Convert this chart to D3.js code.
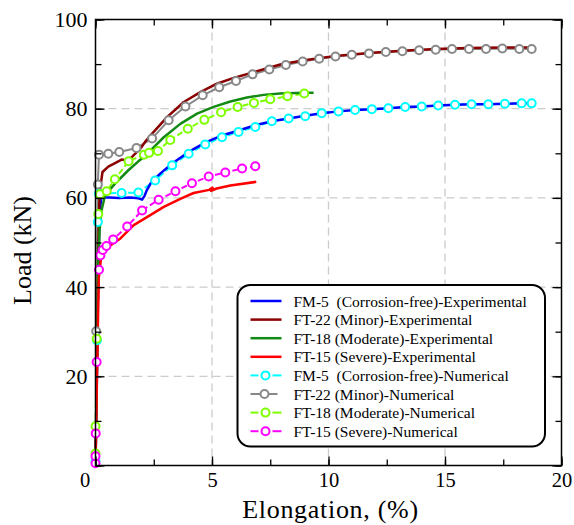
<!DOCTYPE html>
<html>
<head>
<meta charset="utf-8">
<script src="https://cdn.jsdelivr.net/npm/d3@7"></script>
<style>
  body { margin: 0; background: #fff; }
  svg { display: block; }
</style>
</head>
<body>
<script>
// experimental curves [elongation %, load kN]
var fm5Exp = [[0,0],[0.06,20],[0.12,45],[0.18,57],[0.25,60.1],[0.6,60.1],[1.0,60.0],[1.5,60.1],[1.85,59.9],[2.0,59.6],[2.1,60.4],[2.2,61.7],[2.36,63.2],[2.48,64.0],[2.79,65.5],[3.29,67.7],[4.0,70.3],[4.71,72.4],[5.43,74.0],[6.14,75.1],[6.86,76.3],[7.57,77.2],[8.29,77.8],[9.0,78.4],[9.71,79.0],[10.43,79.4],[11.14,79.7],[11.86,79.9],[12.57,80.1],[13.29,80.4],[14.0,80.5],[14.71,80.7],[15.43,80.9],[16.14,81.0],[16.86,81.0],[17.57,81.1],[18.29,81.2],[18.74,81.2]];
var ft22Exp = [[0,0],[0.08,30],[0.14,55],[0.18,61.3],[0.3,65.8],[0.55,67.0],[0.84,67.8],[1.12,68.6],[1.41,68.4],[1.62,69.5],[1.98,71.4],[2.12,72.5],[2.43,74.4],[3.07,78.1],[3.79,81.5],[4.5,83.7],[5.21,85.6],[5.93,86.9],[6.79,88.2],[7.93,89.9],[8.89,90.8],[10.3,91.8],[11.74,92.5],[13.17,93.0],[14.6,93.4],[16.0,93.6],[17.46,93.7],[18.76,93.7]];
var ft18Exp = [[0,0],[0.07,25],[0.12,45],[0.18,53],[0.25,57],[0.41,60.6],[0.84,63.2],[1.41,66.2],[1.84,68.2],[2.1,69.3],[2.43,71.0],[2.93,73.6],[3.64,76.6],[4.36,78.9],[5.07,80.4],[5.79,81.6],[6.5,82.5],[7.21,83.1],[7.93,83.4],[8.6,83.5],[9.36,83.6]];
var ft15Exp = [[0,0],[0.08,25],[0.14,42],[0.25,47],[0.43,48.6],[1.07,50.9],[1.64,53.9],[2.21,55.7],[2.93,58.0],[3.64,59.8],[4.21,61.1],[4.88,61.8],[5.02,62.3],[4.96,61.6],[5.2,62.1],[5.79,62.8],[6.9,63.6]];

// numerical curves
var fm5Num = [[0,1],[0.06,28.1],[0.1,54.6],[0.14,61.0],[1.12,61.1],[1.84,61.2],[2.56,63.9],[3.29,67.3],[4.0,69.9],[4.71,72.0],[5.43,73.6],[6.14,74.8],[6.86,75.9],[7.57,77.2],[8.29,77.8],[9.0,78.3],[9.71,79.0],[10.43,79.4],[11.14,79.7],[11.86,79.9],[12.57,80.1],[13.29,80.4],[14.0,80.5],[14.71,80.7],[15.43,80.9],[16.14,81.0],[16.86,81.0],[17.57,81.1],[18.29,81.2],[18.72,81.2]];
var ft22Num = [[0.03,30.1],[0.1,63.0],[0.15,69.7],[0.55,69.9],[1.02,70.3],[1.76,71.2],[2.43,73.3],[3.14,77.4],[3.86,80.5],[4.6,83.0],[5.31,84.8],[6.03,86.2],[6.74,87.7],[7.46,88.8],[8.17,89.8],[8.89,90.6],[9.6,91.2],[10.3,91.7],[11.0,92.1],[11.74,92.4],[12.46,92.7],[13.17,92.9],[13.89,93.1],[14.6,93.2],[15.3,93.4],[16.03,93.4],[16.76,93.4],[17.46,93.5],[18.19,93.4],[18.72,93.4]];
var ft18Num = [[0,2.7],[0,8.8],[0.05,28.4],[0.12,56.4],[0.19,60.8],[0.48,61.5],[0.83,64.2],[1.42,68.2],[2.08,69.7],[2.3,70.1],[2.68,70.5],[3.21,73.0],[3.96,75.5],[4.67,77.5],[5.39,79.2],[6.1,80.4],[6.8,81.3],[7.5,82.1],[8.24,82.8],[8.96,83.4]];
var ft15Num = [[0,0.5],[0,2.1],[0.01,7.2],[0.05,23.2],[0.15,43.9],[0.21,47.1],[0.31,48.3],[0.47,49.2],[0.76,50.7],[1.36,53.6],[2.0,57.2],[2.71,59.6],[3.43,61.5],[4.14,63.3],[4.86,64.8],[5.57,65.7],[6.29,66.6],[6.86,67.1]];

var expNames = ["FM-5  (Corrosion-free)-Experimental", "FT-22 (Minor)-Experimental", "FT-18 (Moderate)-Experimental", "FT-15 (Severe)-Experimental"];
var numNames = ["FM-5  (Corrosion-free)-Numerical", "FT-22 (Minor)-Numerical", "FT-18 (Moderate)-Numerical", "FT-15 (Severe)-Numerical"];
var xTicks = [0, 5, 10, 15, 20];
var yTicks = [0, 20, 40, 60, 80, 100];

var FONT = "Liberation Serif";

var expSeries = [
  {name: expNames[0], data: fm5Exp, color: "#0000ff"},
  {name: expNames[1], data: ft22Exp, color: "#8b0000"},
  {name: expNames[2], data: ft18Exp, color: "#138a13"},
  {name: expNames[3], data: ft15Exp, color: "#ff0000"}
];
var numSeries = [
  {name: numNames[0], data: fm5Num, color: "#00ffff", dash: "6,3"},
  {name: numNames[1], data: ft22Num, color: "#888888", dash: null},
  {name: numNames[2], data: ft18Num, color: "#7fff00", dash: "6,3"},
  {name: numNames[3], data: ft15Num, color: "#ff00ff", dash: "6,3"}
];

// set the dimensions and margins of the graph
var margin = {top: 19.5, right: 12.5, bottom: 59.5, left: 95.5},
    width = 574 - margin.left - margin.right,
    height = 525 - margin.top - margin.bottom;

var x = d3.scaleLinear().domain([0, 20]).range([0, width]);
var y = d3.scaleLinear().domain([0, 100]).range([height, 0]);

var line = d3.line()
    .x(function(d) { return x(d[0]); })
    .y(function(d) { return y(d[1]); });

var svg = d3.select("body").append("svg")
    .attr("width", 574)
    .attr("height", 525)
    .attr("font-family", FONT)
  .append("g")
    .attr("transform", "translate(" + margin.left + "," + margin.top + ")");

// grid
svg.append("g").selectAll("line")
    .data([5, 10, 15]).enter().append("line")
    .attr("x1", function(d) { return x(d); }).attr("x2", function(d) { return x(d); })
    .attr("y1", 0).attr("y2", height)
    .style("stroke", "#cccccc").style("stroke-width", 1.3).style("stroke-dasharray", "8,5");
svg.append("g").selectAll("line")
    .data([20, 40, 60, 80]).enter().append("line")
    .attr("y1", function(d) { return y(d); }).attr("y2", function(d) { return y(d); })
    .attr("x1", 0).attr("x2", width)
    .style("stroke", "#cccccc").style("stroke-width", 1.3).style("stroke-dasharray", "8,5");

// numerical lines
numSeries.forEach(function(s) {
  svg.append("path")
      .datum(s.data)
      .attr("d", line)
      .style("fill", "none")
      .style("stroke", s.color)
      .style("stroke-width", 2)
      .style("stroke-dasharray", s.dash);
});

// experimental lines
expSeries.forEach(function(s) {
  svg.append("path")
      .datum(s.data)
      .attr("d", line)
      .style("fill", "none")
      .style("stroke", s.color)
      .style("stroke-width", 2.5)
      .style("stroke-linejoin", "round");
});

// markers
numSeries.forEach(function(s) {
  svg.append("g").selectAll("circle")
      .data(s.data).enter().append("circle")
      .attr("cx", function(d) { return x(d[0]); })
      .attr("cy", function(d) { return y(d[1]); })
      .attr("r", 4)
      .style("fill", "#fff")
      .style("stroke", s.color)
      .style("stroke-width", 2);
});

// axes, ticks inward on all four sides
function styleAxis(size) {
  return function(g) {
    g.attr("font-family", FONT).attr("font-size", size);
    g.select(".domain").remove();
    g.selectAll("line").style("stroke", "#000").style("stroke-width", 1.3);
    g.selectAll("text").attr("fill", "#000");
  };
}

svg.append("g")
    .attr("transform", "translate(0," + height + ")")
    .call(d3.axisBottom(x).tickValues(d3.range(0, 20.1, 2.5)).tickSize(-6).tickFormat(""))
    .call(styleAxis(20.5));
svg.append("g")
    .attr("transform", "translate(0," + height + ")")
    .call(d3.axisBottom(x).tickValues(xTicks).tickSize(-9).tickPadding(7).tickFormat(d3.format("d")))
    .call(styleAxis(20.5))
    .call(function(g) {
      g.selectAll(".tick text").filter(function(d) { return d === 0; }).attr("x", -11);
    });
svg.append("g")
    .call(d3.axisTop(x).tickValues(d3.range(0, 20.1, 2.5)).tickSize(-6).tickFormat(""))
    .call(styleAxis(20.5));
svg.append("g")
    .call(d3.axisTop(x).tickValues(xTicks).tickSize(-9).tickFormat(""))
    .call(styleAxis(20.5));

svg.append("g")
    .call(d3.axisLeft(y).tickValues(d3.range(0, 101, 10)).tickSize(-6).tickFormat(""))
    .call(styleAxis(22));
svg.append("g")
    .call(d3.axisLeft(y).tickValues(yTicks).tickSize(-9).tickPadding(8)
      .tickFormat(function(d) { return d === 0 ? "" : d; }))
    .call(styleAxis(22));
svg.append("g")
    .attr("transform", "translate(" + width + ",0)")
    .call(d3.axisRight(y).tickValues(d3.range(0, 101, 10)).tickSize(-6).tickFormat(""))
    .call(styleAxis(22));
svg.append("g")
    .attr("transform", "translate(" + width + ",0)")
    .call(d3.axisRight(y).tickValues(yTicks).tickSize(-9).tickFormat(""))
    .call(styleAxis(22));

// frame
svg.append("rect")
    .attr("width", width).attr("height", height)
    .style("fill", "none").style("stroke", "#000").style("stroke-width", 1.5);

// axis titles
svg.append("text")
    .attr("x", width / 2 + 2).attr("y", height + 52)
    .attr("text-anchor", "middle")
    .attr("font-family", FONT)
    .attr("font-size", 26)
    .style("letter-spacing", "0.7px")
    .text("Elongation, (%)");
svg.append("text")
    .attr("transform", "translate(" + (-65) + "," + (height / 2 + 8) + ") rotate(-90)")
    .attr("text-anchor", "middle")
    .attr("font-family", FONT)
    .attr("font-size", 26)
    .text("Load (kN)");

// legend
var lg = svg.append("g").attr("transform", "translate(" + (237.5 - margin.left) + "," + (285 - margin.top) + ")");
lg.append("rect")
    .attr("width", 307.5).attr("height", 161.5)
    .attr("rx", 13).attr("ry", 13)
    .style("fill", "#fff").style("stroke", "#000").style("stroke-width", 2);

var rows = expSeries.concat(numSeries);
rows.forEach(function(s, i) {
  var ry = 16 + i * 18.6;
  var row = lg.append("g").attr("transform", "translate(0," + ry + ")");
  if (i < 4) {
    row.append("line").attr("x1", 13).attr("x2", 44).attr("y1", 0).attr("y2", 0)
        .style("stroke", s.color).style("stroke-width", 2.5);
  } else if (s.dash) {
    row.append("line").attr("x1", 13).attr("x2", 21).attr("y1", 0).attr("y2", 0)
        .style("stroke", s.color).style("stroke-width", 2);
    row.append("line").attr("x1", 35).attr("x2", 44).attr("y1", 0).attr("y2", 0)
        .style("stroke", s.color).style("stroke-width", 2);
    row.append("circle").attr("cx", 28).attr("cy", 0).attr("r", 4)
        .style("fill", "#fff").style("stroke", s.color).style("stroke-width", 2);
  } else {
    row.append("line").attr("x1", 13).attr("x2", 40).attr("y1", 0).attr("y2", 0)
        .style("stroke", s.color).style("stroke-width", 2);
    row.append("circle").attr("cx", 27).attr("cy", 0).attr("r", 4)
        .style("fill", "#fff").style("stroke", s.color).style("stroke-width", 2);
  }
  row.append("text")
      .attr("x", 56).attr("y", 5.5)
      .attr("font-family", FONT)
      .attr("font-size", 15.5)
      .style("white-space", "pre")
      .text(s.name);
});
</script>
</body>
</html>
